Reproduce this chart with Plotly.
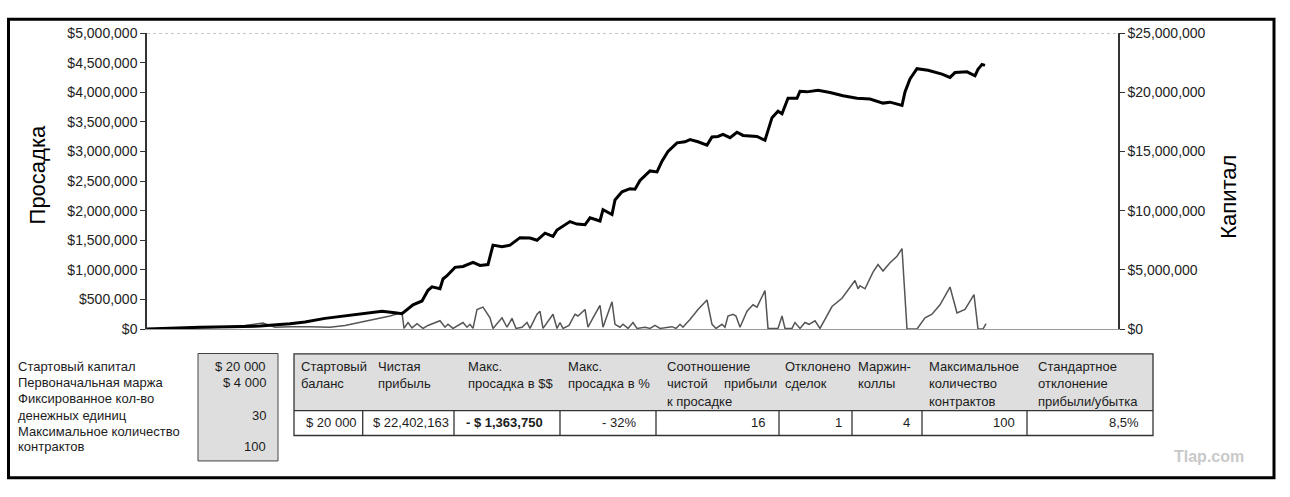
import plotly.graph_objects as go

W, H = 1290, 497
FONT = "Liberation Sans, Arial, sans-serif"

# ---------------- data ----------------
# trade/period index (arbitrary units along an unlabeled x axis)
period_cap = [0, 28, 53, 83, 113, 143, 158, 178, 198, 208,
              225, 235, 248, 255, 266, 275, 281, 285, 293, 296,
              300, 308, 316, 326, 333, 341, 346, 355, 363, 373,
              383, 390, 398, 406, 410, 416, 423, 430, 438, 443,
              453, 456, 465, 468, 475, 483, 488, 493, 503, 510,
              515, 521, 530, 538, 543, 551, 560, 565, 571, 576,
              583, 590, 596, 610, 618, 625, 631, 635, 641, 650,
              653, 660, 671, 683, 696, 710, 723, 736, 743, 755,
              758, 763, 770, 781, 795, 803, 808, 820, 828, 831,
              835, 838]
# capital, millions of dollars (right axis)
capital_musd = [0.0, 0.1, 0.15, 0.2, 0.25, 0.45, 0.6, 0.9, 1.12, 1.23,
                1.45, 1.5, 1.37, 1.3, 2.04, 2.37, 3.27, 3.57, 3.41, 4.23,
                4.5, 5.21, 5.29, 5.64, 5.37, 5.45, 7.09, 6.95, 7.09, 7.72,
                7.69, 7.5, 8.1, 7.83, 8.37, 8.73, 9.08, 8.87, 8.81, 9.4,
                9.13, 10.09, 9.68, 10.91, 11.59, 11.86, 11.81, 12.55, 13.36, 13.28,
                14.18, 15.0, 15.73, 15.82, 16.0, 15.82, 15.54, 16.23, 16.27, 16.44,
                16.17, 16.63, 16.36, 16.27, 15.95, 17.86, 18.4, 18.19, 19.5, 19.5,
                20.09, 20.04, 20.18, 19.99, 19.71, 19.5, 19.44, 19.09, 19.17, 18.89,
                20.04, 21.13, 22.0, 21.87, 21.54, 21.26, 21.67, 21.73, 21.4, 21.95,
                22.36, 22.28]

period_dd = [0, 33, 73, 98, 116, 128, 143, 163, 183, 198,
             213, 228, 243, 255, 257, 261, 265, 270, 276, 281,
             288, 293, 298, 301, 306, 316, 320, 323, 326, 330,
             336, 340, 343, 346, 355, 360, 365, 369, 375, 380,
             383, 390, 393, 396, 406, 410, 413, 416, 422, 428,
             431, 438, 441, 446, 453, 456, 465, 468, 473, 476,
             481, 486, 490, 498, 503, 508, 513, 525, 529, 533,
             536, 539, 543, 551, 560, 565, 569, 575, 578, 581,
             586, 589, 593, 600, 606, 610, 618, 621, 631, 635,
             638, 645, 648, 653, 658, 662, 668, 673, 685, 695,
             700, 708, 711, 713, 718, 726, 731, 736, 743, 750,
             755, 760, 770, 778, 785, 793, 803, 810, 818, 827,
             831, 836, 839]
# drawdown, millions of dollars (left axis)
drawdown_musd = [0.0, 0.01, 0.03, 0.06, 0.1, 0.03, 0.04, 0.04, 0.03, 0.06,
                 0.11, 0.17, 0.22, 0.28, 0.01, 0.11, 0.02, 0.09, 0.01, 0.06,
                 0.11, 0.14, 0.03, 0.08, 0.01, 0.11, 0.03, 0.08, 0.01, 0.33,
                 0.37, 0.26, 0.19, 0.01, 0.19, 0.03, 0.18, 0.01, 0.03, 0.11,
                 0.01, 0.25, 0.3, 0.01, 0.25, 0.01, 0.11, 0.01, 0.06, 0.25,
                 0.22, 0.33, 0.03, 0.19, 0.4, 0.03, 0.46, 0.08, 0.03, 0.08,
                 0.01, 0.11, 0.01, 0.03, 0.01, 0.06, 0.01, 0.04, 0.01, 0.08,
                 0.03, 0.09, 0.16, 0.33, 0.49, 0.08, 0.01, 0.08, 0.03, 0.22,
                 0.25, 0.22, 0.03, 0.3, 0.41, 0.37, 0.65, 0.01, 0.01, 0.22,
                 0.01, 0.01, 0.11, 0.01, 0.11, 0.08, 0.14, 0.01, 0.38, 0.52,
                 0.63, 0.82, 0.68, 0.73, 0.68, 0.96, 1.09, 0.98, 1.12, 1.23,
                 1.36, 0.0, 0.0, 0.19, 0.25, 0.41, 0.71, 0.27, 0.33, 0.58,
                 0.0, 0.0, 0.09]

left_tickvals = [0, 0.5, 1, 1.5, 2, 2.5, 3, 3.5, 4, 4.5, 5]
left_ticktext = ["$0", "$500,000", "$1,000,000", "$1,500,000", "$2,000,000",
                 "$2,500,000", "$3,000,000", "$3,500,000", "$4,000,000",
                 "$4,500,000", "$5,000,000"]
right_tickvals = [0, 5, 10, 15, 20, 25]
right_ticktext = ["$0", "$5,000,000", "$10,000,000", "$15,000,000",
                  "$20,000,000", "$25,000,000"]

left_title = "Просадка"
right_title = "Капитал"

param_labels = ["Стартовый капитал", "Первоначальная маржа", "Фиксированное кол-во",
                "денежных единиц", "Максимальное количество", "контрактов"]
param_values = ["$ 20 000", "$ 4 000", "", "30", "", "100"]

header_lines = [["Стартовый", "баланс"],
                ["Чистая", "прибыль"],
                ["Макс.", "просадка в $$"],
                ["Макс.", "просадка в %"],
                ["Соотношение", "чистой", "к просадке"],
                ["Отклонено", "сделок"],
                ["Маржин-", "коллы"],
                ["Максимальное", "количество", "контрактов"],
                ["Стандартное", "отклонение", "прибыли/убытка"]]
result_values = ["$ 20 000", "$ 22,402,163", "- $ 1,363,750", "- 32%", "16",
                 "1", "4", "100", "8,5%"]

# ---------------- layout helpers ----------------
def px(x):
    return x / W


def py(y):
    return 1 - y / H


annotations = []
shapes = []


def txt(s, x, y, anchor="left", size=13, color="#1c1c1c", bold=False, angle=0):
    if bold:
        s = "<b>" + s + "</b>"
    annotations.append(dict(text=s, x=px(x), y=py(y), xref="paper", yref="paper",
                            xanchor=anchor, yanchor="middle", showarrow=False,
                            textangle=angle, borderpad=0,
                            font=dict(family=FONT, size=size, color=color)))


def rect(x0, y0, x1, y1, fill="rgba(0,0,0,0)", color="#333", width=1):
    shapes.append(dict(type="rect", xref="paper", yref="paper",
                       x0=px(x0), x1=px(x1), y0=py(y1), y1=py(y0),
                       fillcolor=fill, line=dict(color=color, width=width),
                       layer="below"))


def line(x0, y0, x1, y1, color="#333", width=1):
    shapes.append(dict(type="line", xref="paper", yref="paper",
                       x0=px(x0), x1=px(x1), y0=py(y0), y1=py(y1),
                       line=dict(color=color, width=width)))


fig = go.Figure()
fig.add_trace(go.Scatter(x=period_dd, y=drawdown_musd, mode="lines",
                         line=dict(color="#555555", width=1.5),
                         yaxis="y", showlegend=False))
fig.add_trace(go.Scatter(x=period_cap, y=capital_musd, mode="lines",
                         line=dict(color="#000000", width=3),
                         yaxis="y2", showlegend=False))

# outer frame
rect(8.5, 11.5, 1274, 485.5, color="#000", width=3)

# dotted top line of plot area
shapes.append(dict(type="line", xref="x domain", yref="y", x0=0, x1=1,
                   y0=left_tickvals[-1], y1=left_tickvals[-1],
                   line=dict(color="#9a9a9a", width=1.2, dash="dot")))

# axis titles
txt(left_title, 37, 173, anchor="center", size=22, color="#000", angle=-90)
txt(right_title, 1229, 195, anchor="center", size=22, color="#000", angle=-90)

# left parameter block
label_y = [370, 387, 404, 421, 437.5, 453.5]
for lab, val, yy in zip(param_labels, param_values, label_y):
    txt(lab, 17, yy)
    if val:
        txt(val, 267, yy, anchor="right")
rect(198, 357, 278, 468, fill="#dedede", color="#444", width=1)

# results table
tbl_l, tbl_r, tbl_t, tbl_mid, tbl_b = 294, 1153, 357.3, 416, 441.7
rect(tbl_l, tbl_t, tbl_r, tbl_mid, fill="#dedede", color="rgba(0,0,0,0)", width=0)
rect(tbl_l, tbl_t, tbl_r, tbl_b, color="#333", width=1.3)
line(tbl_l, tbl_mid, tbl_r, tbl_mid, color="#333", width=1.3)
col_sep = [362.7, 454, 560, 656, 779, 852, 922, 1027]
for cx in col_sep:
    line(cx, tbl_mid, cx, tbl_b, color="#333", width=1.3)

header_x = [300, 377, 467, 567, 666, 784, 857, 928, 1037]
header_line_y = [370, 388, 406.5]
for hx, lines in zip(header_x, header_lines):
    for ln, hy in zip(lines, header_line_y):
        txt(ln, hx, hy)
txt("прибыли", 778, 388, anchor="right")

value_y = 428.5
value_pos = [(358, "right"), (450, "right"), (465, "left"), (637, "right"),
             (766, "right"), (843, "right"), (911, "right"), (1016, "right"),
             (1140, "right")]
for val, (vx, anc) in zip(result_values, value_pos):
    txt(val, vx, value_y, anchor=anc, bold=val.startswith("- $"))

# watermark
txt("Tlap.com", 1209, 463, anchor="center", size=16, color="#c9c9c9", bold=True)

axis_font = dict(family=FONT, size=14, color="#222")
fig.update_layout(
    width=W, height=H, autosize=False,
    margin=dict(l=0, r=0, t=0, b=0, pad=0),
    paper_bgcolor="white", plot_bgcolor="white",
    xaxis=dict(domain=[px(147), px(1118)], range=[0, 971],
               showline=True, linecolor="#9a9a9a", linewidth=1.2,
               showticklabels=False, ticks="", showgrid=False, zeroline=False),
    yaxis=dict(domain=[py(331.7), py(26)], range=[0, 5],
               tickvals=left_tickvals, ticktext=left_ticktext,
               ticks="outside", ticklen=5, tickwidth=1.3, tickcolor="#333",
               showline=True, linecolor="#333", linewidth=1.5,
               showgrid=False, zeroline=False, tickfont=axis_font),
    yaxis2=dict(overlaying="y", side="right", anchor="x", range=[0, 25],
                tickvals=right_tickvals, ticktext=right_ticktext,
                ticks="outside", ticklen=5, tickwidth=1.3, tickcolor="#333",
                showline=True, linecolor="#333", linewidth=1.5,
                showgrid=False, zeroline=False, tickfont=axis_font),
    annotations=annotations,
    shapes=shapes,
    showlegend=False,
)

fig.write_html("out.html")
